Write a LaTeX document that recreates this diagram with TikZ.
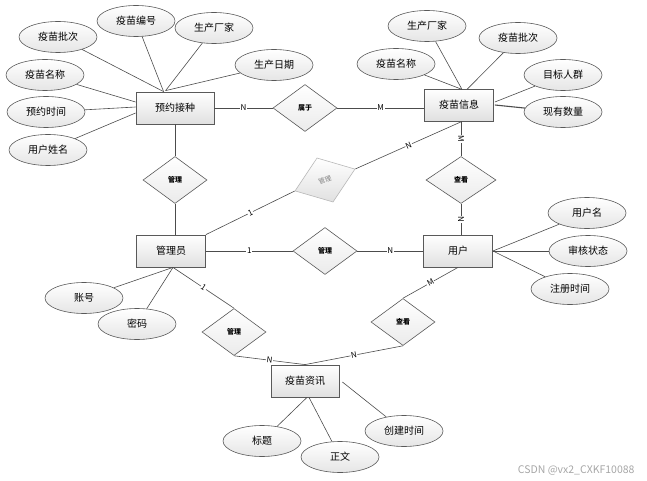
\documentclass[tikz,border=0pt]{standalone}
\usepackage{fontspec}
\setmainfont{Noto Sans CJK SC}
\usetikzlibrary{shapes.geometric,calc}
\begin{document}
\begin{tikzpicture}[x=1pt,y=-1pt,
  ent/.style={draw=black!65, line width=0.8pt, top color=white, bottom color=black!12, minimum width=69pt, minimum height=32pt, inner sep=0pt, font=\fontsize{10}{12}\selectfont},
  attr/.style={ellipse, draw=black!65, line width=0.6pt, top color=white, bottom color=black!10, minimum width=78pt, minimum height=31pt, inner sep=0pt, font=\fontsize{10}{12}\selectfont},
  rel/.style={diamond, draw=black!65, line width=0.6pt, top color=white, bottom color=black!8, minimum width=64pt, minimum height=47pt, inner sep=0pt, font=\fontsize{7}{8}\selectfont\bfseries},
  relgray/.style={rel, draw=black!28, bottom color=black!12, text=black!50, font=\fontsize{6.5}{7}\selectfont},
  ln/.style={draw=black!70, line width=0.6pt},
  lab/.style={fill=white, inner sep=0.6pt, font=\fontsize{8}{9}\selectfont},
]
\useasboundingbox (0,0) rectangle (647,481);

% entities
\node[ent, minimum width=78pt] (yy) at (175,108) {预约接种};
\node[ent] (ym) at (459,105) {疫苗信息};
\node[ent] (gl) at (171,251) {管理员};
\node[ent] (yh) at (458,251) {用户};
\node[ent, minimum width=68pt] (zx) at (305,381) {疫苗资讯};

% relationships
\node[rel] (sy) at (305,108) {属于};
\node[rel] (gl1) at (175,180) {管理};
\node[relgray, rotate=20] (gl2) at (325,180) {管理};
\node[rel, minimum width=70pt] (ck1) at (461,180) {查看};
\node[rel] (gl3) at (325,251) {管理};
\node[rel] (gl4) at (234,332) {管理};
\node[rel] (ck2) at (403,322) {查看};

% attributes of 预约接种
\node[attr] (a1) at (58,37) {疫苗批次};
\node[attr] (a2) at (136,21) {疫苗编号};
\node[attr] (a3) at (214,28) {生产厂家};
\node[attr] (a4) at (274,65) {生产日期};
\node[attr] (a5) at (45,75) {疫苗名称};
\node[attr] (a6) at (46,112) {预约时间};
\node[attr] (a7) at (48,150) {用户姓名};
% attributes of 疫苗信息
\node[attr] (b1) at (396,64) {疫苗名称};
\node[attr] (b2) at (427,26) {生产厂家};
\node[attr] (b3) at (518,38) {疫苗批次};
\node[attr] (b4) at (563,75) {目标人群};
\node[attr] (b5) at (563,112) {现有数量};
% attributes of 用户
\node[attr] (c1) at (587,213) {用户名};
\node[attr] (c2) at (588,251) {审核状态};
\node[attr] (c3) at (570,289) {注册时间};
% attributes of 管理员
\node[attr] (d1) at (84,298) {账号};
\node[attr] (d2) at (137,324) {密码};
% attributes of 疫苗资讯
\node[attr] (e1) at (262,441) {标题};
\node[attr] (e2) at (340,457) {正文};
\node[attr] (e3) at (404,431) {创建时间};

% helper coordinates
\coordinate (yyt) at ($(yy.north west)+(28,0)$);
\coordinate (ymt1) at ($(ym.south)+(3,-32)$);
\coordinate (ymt2) at ($(ym.south)+(8,-32)$);
\coordinate (glb) at ($(gl.south)+(2,0)$);

% attribute links
\draw[ln] (a1) -- (yyt);
\draw[ln] (a2) -- (yyt);
\draw[ln] (a3) -- ($(yyt)+(2,-1)$);
\draw[ln] (a4) -- ($(yyt)+(2,-1)$);
\draw[ln] (a5) -- ($(yy.west)+(0,-6)$);
\draw[ln] (a6) -- ($(yy.west)+(0,-1)$);
\draw[ln] (a7) -- ($(yy.west)+(0,5)$);
\draw[ln] (b1) -- (ymt1);
\draw[ln] (b2) -- (ymt1);
\draw[ln] (b3) -- (ymt2);
\draw[ln] (b4) -- ($(ym.east)+(1,-3)$);
\draw[ln, line width=1.1pt] (b5) -- ($(ym.east)+(1,0)$);
\draw[ln] (c1) -- (yh.east);
\draw[ln] (c2) -- (yh.east);
\draw[ln] (c3) -- (yh.east);
\draw[ln] (d1) -- (glb);
\draw[ln] (d2) -- (glb);
\draw[ln] (e1) -- ($(zx.south)+(2,0)$);
\draw[ln] (e2) -- ($(zx.south)+(4,0)$);
\draw[ln] (e3) -- ($(zx.east)+(3,1)$);

% relationship links
\draw[ln] (yy.east) -- node[lab]{N} (sy.west);
\draw[ln] (sy.east) -- node[lab]{M} (sy.east -| ym.west);
\draw[ln] (yy.south) -- (gl1.north);
\draw[ln] (gl1.south) -- (gl1.south |- gl.north);
\draw[ln] (gl.north east) -- node[lab, sloped]{1} (gl2.west);
\draw[ln] (gl2.east) -- node[lab, sloped]{N} ($(ym.south)+(3,0)$);
\draw[ln] (ck1.north |- ym.south) -- node[lab, rotate=-90]{M} (ck1.north);
\draw[ln] (ck1.south) -- node[lab, rotate=-90]{N} (ck1.south |- yh.north);
\draw[ln] (gl.east) -- node[lab]{1} (gl3.west);
\draw[ln] (gl3.east) -- node[lab]{N} (yh.west);
\draw[ln] (glb) -- node[lab, sloped]{1} (gl4.north);
\draw[ln] (gl4.south) -- node[lab, sloped]{N} (zx.north);
\draw[ln] (yh.south) -- node[lab, sloped]{M} (ck2.north);
\draw[ln] (ck2.south) -- node[lab, sloped]{N} (zx.north);

% watermark
\node[text=black!35, font=\fontsize{10.5}{12}\selectfont, anchor=east] (wm) at (638,470) {CSDN @vx2\_CXKF10088};
\end{tikzpicture}
\end{document}
